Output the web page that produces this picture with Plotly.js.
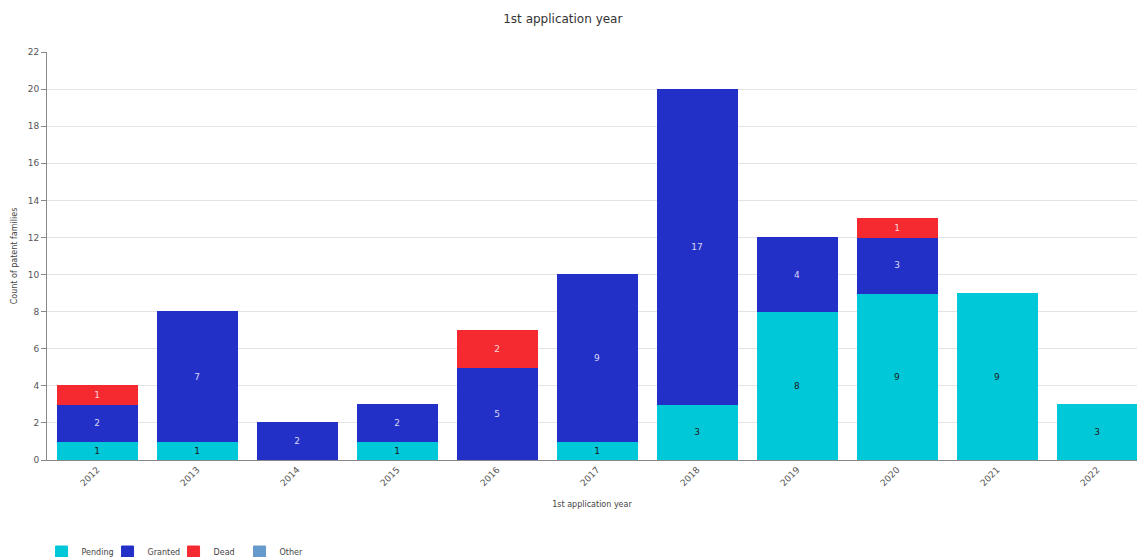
<!DOCTYPE html>
<html>
<head>
<meta charset="utf-8">
<script src="https://cdn.plot.ly/plotly-3.0.1.min.js"></script>
<style>
  html, body { margin: 0; padding: 0; background: #ffffff; overflow: hidden; }
  #chart { width: 1137px; height: 557px; }
</style>
</head>
<body>
<div id="chart"></div>
<script>
// Patent families by first application year, split by legal status
const years = ['2012', '2013', '2014', '2015', '2016', '2017', '2018', '2019', '2020', '2021', '2022'];
const pending = [1, 1, 0, 1, 0, 1, 3, 8, 9, 9, 3];
const granted = [2, 7, 2, 2, 5, 9, 17, 4, 3, 0, 0];
const dead    = [1, 0, 0, 0, 2, 0, 0, 0, 1, 0, 0];
const other   = [0, 0, 0, 0, 0, 0, 0, 0, 0, 0, 0];

const FONT = 'DejaVu Sans, Verdana, sans-serif';

function series(name, values, color, textColor) {
  return {
    type: 'bar',
    name: name,
    x: years,
    y: values.map(v => (v === 0 ? null : v)),
    text: values.map(v => (v === 0 ? '' : String(v))),
    textposition: 'inside',
    insidetextanchor: 'middle',
    textangle: 0,
    textfont: { family: FONT, size: 9, color: textColor },
    marker: { color: color, line: { color: color, width: 1 } },
    hoverinfo: 'x+y+name',
    width: 0.8
  };
}

const data = [
  series('Pending', pending, '#00c8d8', '#1a1a1a'),
  series('Granted', granted, '#2330c8', '#d8d8f4'),
  series('Dead', dead, '#f52a30', '#fbd6d6'),
  series('Other', other, '#6699cc', '#ffffff')
];

const layout = {
  width: 1137,
  height: 557,
  barmode: 'stack',
  bargap: 0.2,
  paper_bgcolor: '#ffffff',
  plot_bgcolor: '#ffffff',
  font: { family: FONT, size: 9, color: '#555555' },
  margin: { l: 47, r: 0, t: 52, b: 97, autoexpand: false },
  title: {
    text: '1st application year',
    font: { family: FONT, size: 12, color: '#333333' },
    x: 0.495, xanchor: 'center',
    y: 0.967, yanchor: 'middle'
  },
  xaxis: {
    type: 'category',
    range: [-0.5, 10.4],
    tickangle: -45,
    tickfont: { family: FONT, size: 9, color: '#555555' },
    showgrid: false,
    showline: true,
    linecolor: '#888888',
    linewidth: 1,
    ticks: '',
    title: {
      text: '1st application year',
      font: { family: FONT, size: 8, color: '#444444' },
      standoff: 14
    },
    fixedrange: true
  },
  yaxis: {
    range: [0, 22],
    dtick: 2,
    tick0: 0,
    tickfont: { family: FONT, size: 9, color: '#555555' },
    showgrid: true,
    gridcolor: '#e3e3e3',
    gridwidth: 1,
    zeroline: false,
    showline: true,
    linecolor: '#888888',
    linewidth: 1,
    ticks: 'outside',
    ticklen: 5,
    tickcolor: '#888888',
    title: {
      text: 'Count of patent families',
      font: { family: FONT, size: 8, color: '#444444' },
      standoff: 8
    },
    fixedrange: true
  },
  showlegend: true,
  legend: {
    orientation: 'h',
    x: -0.005, xanchor: 'left',
    y: -0.19, yanchor: 'top',
    font: { family: FONT, size: 8, color: '#444444' },
    traceorder: 'normal',
    entrywidth: 21,
    entrywidthmode: 'pixels',
    bgcolor: 'rgba(0,0,0,0)'
  }
};

Plotly.newPlot('chart', data, layout, { displayModeBar: false, responsive: false });
</script>
</body>
</html>
